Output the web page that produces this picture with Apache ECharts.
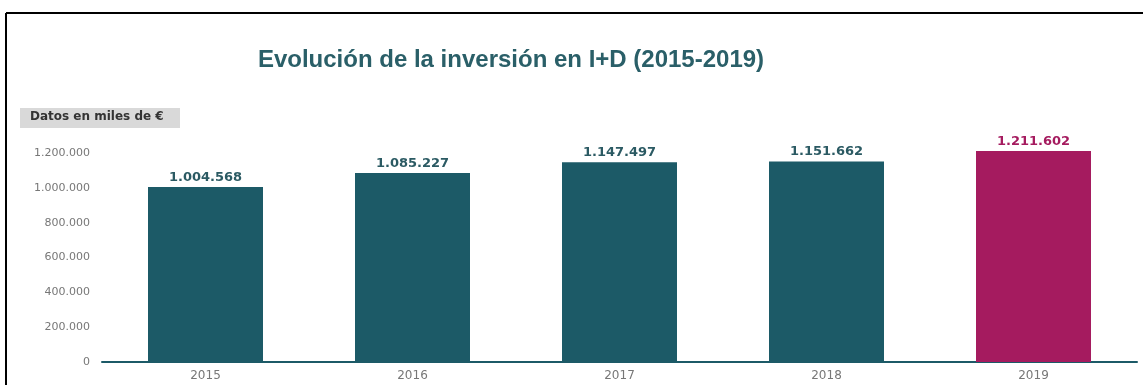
<!DOCTYPE html>
<html>
<head>
<meta charset="utf-8">
<script src="https://cdn.jsdelivr.net/npm/echarts@6/dist/echarts.min.js"></script>
<style>
html,body{margin:0;padding:0;background:#fff;}
#chart{width:1143px;height:385px;}
</style>
</head>
<body>
<div id="chart"></div>
<script>
const categories = ['2015', '2016', '2017', '2018', '2019'];
const values = [1004568, 1085227, 1147497, 1151662, 1211602];
const yTicks = [0, 200000, 400000, 600000, 800000, 1000000, 1200000];
const titleText = 'Evolución de la inversión en I+D (2015-2019)';
const unitText = 'Datos en miles de €';

const TEAL = '#1c5a67';
const MAGENTA = '#a51b5f';
const WIDE = 'DejaVu Sans, Verdana, sans-serif';

function fmt(v) {
  return String(v).replace(/\B(?=(\d{3})+(?!\d))/g, '.');
}

const chart = echarts.init(document.getElementById('chart'));
chart.setOption({
  animation: false,
  backgroundColor: '#fff',
  title: {
    text: titleText,
    left: 506,
    textAlign: 'center',
    top: 43,
    textStyle: { fontFamily: 'Liberation Sans, Arial, sans-serif', fontWeight: 'bold', fontSize: 24, color: '#2a5f68' }
  },
  graphic: [
    { type: 'line', shape: { x1: 6, y1: 13, x2: 6, y2: 385 }, style: { stroke: '#000', lineWidth: 2 } },
    { type: 'line', shape: { x1: 6, y1: 13, x2: 1143, y2: 13 }, style: { stroke: '#000', lineWidth: 2 } },
    { type: 'rect', shape: { x: 20, y: 108, width: 160, height: 20 }, style: { fill: '#d9d9d9' } },
    { type: 'text', left: 30, top: 111, style: { text: unitText, fontFamily: WIDE, fontWeight: 'bold', fontSize: 12, fill: '#333' } }
  ],
  grid: { left: 102, right: 6, top: 135.6, bottom: 23 },
  xAxis: {
    type: 'category',
    data: categories,
    axisLine: { lineStyle: { color: TEAL, width: 2 } },
    axisTick: { show: false },
    axisLabel: { color: '#777', fontSize: 12, margin: 8, fontFamily: WIDE }
  },
  yAxis: {
    type: 'value',
    min: 0,
    max: 1300000,
    interval: 200000,
    splitLine: { show: false },
    axisLine: { show: false },
    axisTick: { show: false },
    axisLabel: {
      color: '#777', fontSize: 11, margin: 12, fontFamily: WIDE,
      formatter: function (v) { return yTicks.indexOf(v) >= 0 ? fmt(v) : ''; }
    }
  },
  series: [{
    type: 'bar',
    barWidth: 115,
    data: values.map(function (v, i) {
      const c = i === values.length - 1 ? MAGENTA : TEAL;
      return { value: v, itemStyle: { color: c }, label: { color: i === values.length - 1 ? MAGENTA : '#2b5a63' } };
    }),
    label: {
      show: true,
      position: 'top',
      distance: 3,
      fontSize: 13,
      fontWeight: 'bold',
      fontFamily: WIDE,
      formatter: function (p) { return fmt(p.value); }
    }
  }]
});
</script>
</body>
</html>
